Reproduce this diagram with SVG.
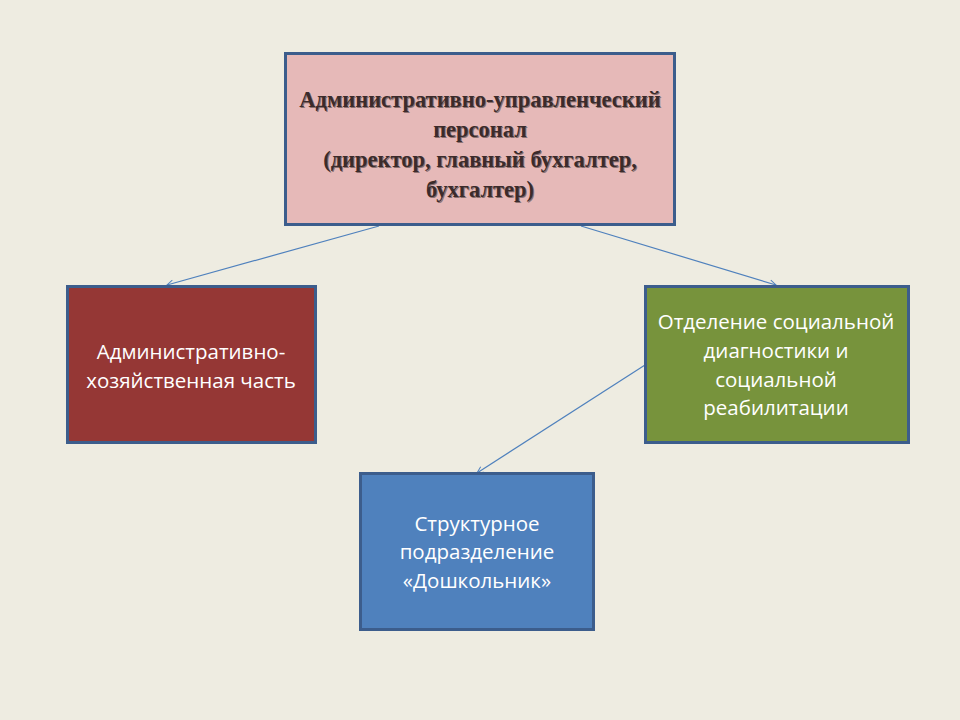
<svg xmlns="http://www.w3.org/2000/svg" width="960" height="720" viewBox="0 0 960 720">
<defs>
<style>
.box{stroke:#3c5d8c;stroke-width:3}
.t1{font-family:"Liberation Serif",serif;font-weight:bold;font-size:22.5px;fill:#3b2b2b;text-anchor:middle}
.t1s{font-family:"Liberation Serif",serif;font-weight:bold;font-size:22.5px;fill:#8a7070;text-anchor:middle}
.t2{font-family:"Open Sans","Liberation Sans",sans-serif;font-size:20.5px;fill:#ffffff;text-anchor:middle}
.c{stroke:#4f81bd;stroke-width:1.2;fill:none;marker-end:url(#arr)}
</style>
<marker id="arr" viewBox="0 0 10 10" refX="9" refY="5" markerWidth="8" markerHeight="8" markerUnits="userSpaceOnUse" orient="auto">
<path d="M1,1 L9,5 L1,9" fill="none" stroke="#4f81bd" stroke-width="1.2"/>
</marker>
</defs>
<rect width="960" height="720" fill="#eeece1"/>
<g id="connectors">
<line class="c" x1="379" y1="226" x2="167" y2="285"/>
<line class="c" x1="581" y1="226" x2="776" y2="285"/>
<line class="c" x1="645" y1="365" x2="477" y2="473"/>
</g>
<g id="admin">
<rect class="box" x="285.5" y="53.5" width="389" height="171" fill="#e6b9b8"/>
<text class="t1s" x="481" y="108">Административно-управленческий</text>
<text class="t1" x="480" y="107">Административно-управленческий</text>
<text class="t1s" x="481" y="138">персонал</text>
<text class="t1" x="480" y="137">персонал</text>
<text class="t1s" x="481" y="168">(директор, главный бухгалтер,</text>
<text class="t1" x="480" y="167">(директор, главный бухгалтер,</text>
<text class="t1s" x="481" y="198">бухгалтер)</text>
<text class="t1" x="480" y="197">бухгалтер)</text>
</g>
<g id="ahch">
<rect class="box" x="67.5" y="286.5" width="248" height="156" fill="#953735"/>
<text class="t2" x="191" y="359">Административно-</text>
<text class="t2" x="191" y="388">хозяйственная часть</text>
</g>
<g id="otdel">
<rect class="box" x="645.5" y="286.5" width="263" height="156" fill="#77933c"/>
<text class="t2" x="776" y="329">Отделение социальной</text>
<text class="t2" x="776" y="358">диагностики и</text>
<text class="t2" x="776" y="387">социальной</text>
<text class="t2" x="776" y="415">реабилитации</text>
</g>
<g id="doshk">
<rect class="box" x="360.5" y="473.5" width="233" height="156" fill="#4f81bd"/>
<text class="t2" x="477" y="531">Структурное</text>
<text class="t2" x="477" y="559">подразделение</text>
<text class="t2" x="477" y="588">«Дошкольник»</text>
</g>
</svg>
